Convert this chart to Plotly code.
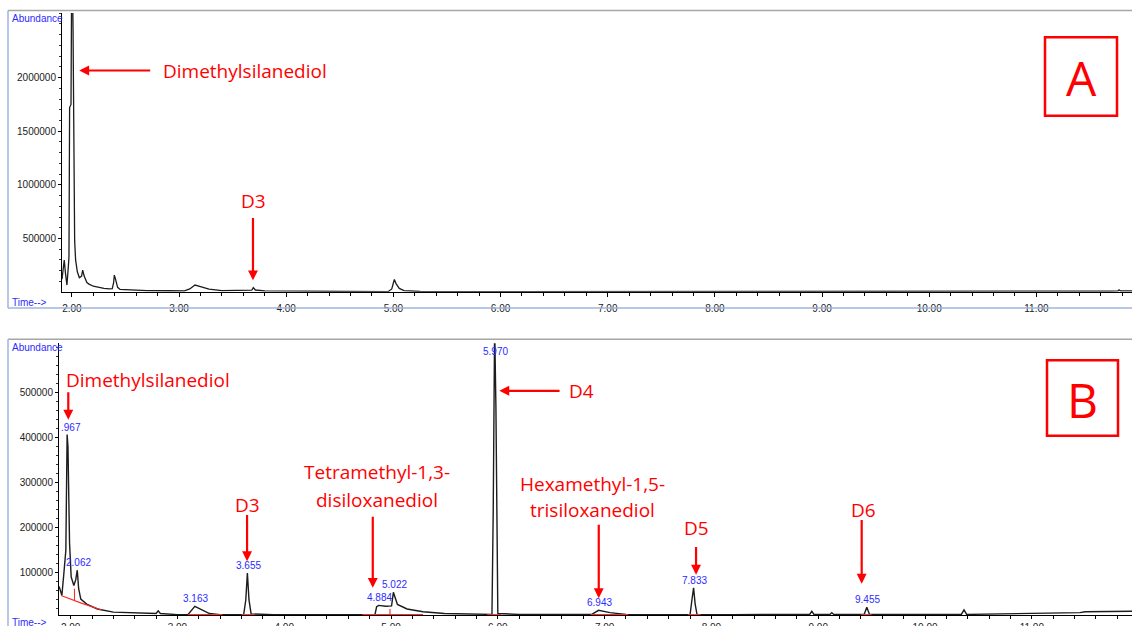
import plotly.graph_objects as go

W, H = 1132, 626          # reference picture size (coordinates below are in these pixels)
FIG_H = 633               # page is captured slightly taller and squeezed to 626

# ---------------- data ----------------
# Panel A chromatogram: retention time (min) / abundance
a_time = [1.908, 1.917, 1.929, 1.940, 1.954, 1.968, 1.973, 1.979, 1.992, 1.998, 2.006,
          2.011, 2.017, 2.026, 2.035, 2.051, 2.070, 2.091, 2.101, 2.115, 2.140, 2.160,
          2.200, 2.250, 2.300, 2.350, 2.377, 2.390, 2.396, 2.405, 2.427, 2.450, 2.550,
          2.700, 2.900, 3.050, 3.100, 3.149, 3.200, 3.280, 3.400, 3.600, 3.678, 3.693,
          3.712, 3.800, 4.000, 4.200, 4.600, 4.950, 4.985, 5.009, 5.025, 5.055, 5.100,
          5.250, 6.000, 7.000, 8.000, 9.000, 10.000, 11.000, 11.380, 11.400, 11.700,
          11.760, 11.771, 11.785, 11.892]
a_abund = [120000, 220000, 300000, 180000, 66000, 250000, 330000, 1720000, 1750000,
           2900000, 2900000, 2450000, 1050000, 480000, 300000, 190000, 135000, 150000,
           206000, 150000, 90000, 75000, 55000, 42000, 35000, 30000, 32000, 90000,
           159000, 130000, 45000, 25000, 18000, 14000, 13000, 12000, 30000, 66000,
           52000, 28000, 14000, 12000, 18000, 43000, 20000, 12000, 10000, 6000, 4500,
           4500, 30000, 118000, 80000, 35000, 15000, 6000, 3500, 3500, 3500, 3500,
           3500, 3500, 3500, 9000, 10000, 12000, 22000, 11000, 11000]

# Panel B chromatogram
b_time = [1.892, 1.905, 1.918, 1.935, 1.945, 1.955, 1.967, 1.975, 1.983, 1.990, 2.005,
          2.030, 2.048, 2.062, 2.075, 2.095, 2.150, 2.250, 2.400, 2.600, 2.800, 2.820,
          2.840, 3.000, 3.100, 3.163, 3.220, 3.300, 3.400, 3.620, 3.640, 3.655, 3.670,
          3.690, 3.900, 4.200, 4.500, 4.850, 4.865, 4.884, 4.950, 5.005, 5.022, 5.060,
          5.150, 5.300, 5.500, 5.800, 5.945, 5.957, 5.970, 5.982, 5.988, 6.000, 6.200,
          6.700, 6.880, 6.943, 7.050, 7.200, 7.800, 7.820, 7.833, 7.848, 7.865, 8.200,
          8.920, 8.940, 8.960, 9.110, 9.127, 9.145, 9.430, 9.455, 9.480, 10.340,
          10.365, 10.390, 10.800, 11.200, 11.450, 11.500, 11.940]
b_abund = [70000, 62000, 50000, 95000, 122000, 150000, 407000, 380000, 262000, 165000,
           91000, 72000, 85000, 106000, 65000, 42000, 31000, 20000, 13000, 11000, 10000,
           16000, 10000, 7500, 8000, 26000, 20000, 10000, 7500, 7500, 40000, 100000,
           40000, 9000, 7500, 7500, 7500, 8000, 25000, 28000, 26000, 27000, 57000, 30000,
           20000, 14000, 10000, 8000, 8000, 240000, 650000, 470000, 262000, 10000, 8000,
           8000, 8000, 17000, 12000, 8000, 7500, 45000, 67000, 30000, 8000, 7500, 8000,
           15000, 8000, 8000, 12000, 8000, 8000, 24000, 8000, 8000, 18000, 8000, 10000,
           11000, 12000, 14000, 15000]

# Integration baselines drawn in red on panel B (None = gap)
b_base_time = [1.910, 2.100, 2.290, None, 2.036, 2.036, None, 3.10, 3.42, None,
               3.60, 3.72, None, 4.73, 5.30, None, 4.99, 4.99, None, 5.90, 6.03, None,
               6.87, 7.22, None, 7.78, 7.90, None, 9.40, 9.50]
b_base_abund = [50000, 33000, 18000, None, 65000, 39000, None, 7500, 7500, None,
                7500, 7500, None, 7500, 7500, None, 7500, 20000, None, 7500, 7500, None,
                7500, 7500, None, 7500, 7500, None, 7500, 7500]

# Integrated peaks (blue retention-time labels)
b_peak_times = [1.967, 2.062, 3.163, 3.655, 4.884, 5.022, 5.970, 6.943, 7.833, 9.455]
b_peak_text = [".967", "2.062", "3.163", "3.655", "4.884", "5.022", "5.970", "6.943",
               "7.833", "9.455"]

x_tick_vals = [2, 3, 4, 5, 6, 7, 8, 9, 10, 11]
x_tick_text = ["2.00", "3.00", "4.00", "5.00", "6.00", "7.00", "8.00", "9.00", "10.00", "11.00"]
a_y_tick_vals = [500000, 1000000, 1500000, 2000000]
b_y_tick_vals = [100000, 200000, 300000, 400000, 500000]

# ---------------- styling ----------------
RED = "#ff0000"
BLUE = "#2b2bff"
TRACE = "#1c1c1c"
TICKFONT = dict(family="Liberation Sans, Arial, sans-serif", size=10, color="#222222")
ANNOFONT = dict(family="Open Sans, sans-serif", size=19, color=RED)

A_XR = [1.908, 11.892]
A_YR = [2800, 2601000]
B_XR = [1.891, 11.938]
B_YR = [6900, 609600]


def px(x):
    return x / W


def py(y):
    return 1 - y / H


fig = go.Figure()
fig.add_trace(go.Scatter(x=a_time, y=a_abund, mode="lines", xaxis="x", yaxis="y",
                         line=dict(color=TRACE, width=1.3), hoverinfo="skip"))
fig.add_trace(go.Scatter(x=b_time, y=b_abund, mode="lines", xaxis="x2", yaxis="y2",
                         line=dict(color=TRACE, width=1.4), hoverinfo="skip"))
fig.add_trace(go.Scatter(x=b_base_time, y=b_base_abund, mode="lines", xaxis="x2", yaxis="y2",
                         connectgaps=False, line=dict(color="#ff2a2a", width=1.1),
                         hoverinfo="skip"))


def xax(domain, rng, anchor, standoff, tlen):
    return dict(domain=domain, range=rng, anchor=anchor, tickmode="array",
                tickvals=x_tick_vals, ticktext=x_tick_text, showline=True,
                linecolor="#000000", linewidth=1, ticks="outside", ticklen=tlen,
                tickwidth=1, tickcolor="#000000", tickfont=TICKFONT, showgrid=False,
                zeroline=False, fixedrange=True, ticklabelstandoff=standoff,
                minor=dict(tickmode="linear", tick0=2, dtick=0.2, ticks="outside",
                           ticklen=3, tickcolor="#000000", showgrid=False))


def yax(domain, rng, anchor, vals, minor_dt):
    return dict(domain=domain, range=rng, anchor=anchor, tickmode="array",
                tickvals=vals, ticktext=[str(v) for v in vals], showline=True,
                linecolor="#000000", linewidth=1, ticks="outside", ticklen=3,
                tickwidth=1, tickcolor="#000000", tickfont=TICKFONT, showgrid=False,
                zeroline=False, fixedrange=True,
                minor=dict(tickmode="linear", tick0=0, dtick=minor_dt, ticks="outside",
                           ticklen=2, tickcolor="#333333", showgrid=False))


annotations = []


def red_text(xr, yr, x, y, text):
    annotations.append(dict(xref=xr, yref=yr, x=x, y=y, text=text, showarrow=False,
                            font=ANNOFONT, xanchor="center", yanchor="middle"))


def red_arrow(xr, yr, x, y, ax, ay):
    annotations.append(dict(xref=xr, yref=yr, x=x, y=y, axref=xr, ayref=yr, ax=ax, ay=ay,
                            text="", showarrow=True, arrowhead=2, arrowsize=0.9,
                            arrowwidth=2.2, arrowcolor=RED, standoff=0, startstandoff=0))


# Panel A annotations
red_text("x", "y", 3.613, 2062000, "Dimethylsilanediol")
red_arrow("x", "y", 2.069, 2066000, 2.745, 2066000)
red_text("x", "y", 3.693, 854000, "D3")
red_arrow("x", "y", 3.690, 110000, 3.690, 706000)

# Panel B annotations
red_text("x2", "y2", 2.720, 527000, "Dimethylsilanediol")
red_arrow("x2", "y2", 1.978, 440000, 1.978, 504000)
red_text("x2", "y2", 3.652, 250000, "D3")
red_arrow("x2", "y2", 3.652, 126000, 3.652, 232000)
red_text("x2", "y2", 4.864, 323000, "Tetramethyl-1,3-")
red_text("x2", "y2", 4.864, 262000, "disiloxanediol")
red_arrow("x2", "y2", 4.829, 67000, 4.829, 228000)
red_text("x2", "y2", 6.786, 504000, "D4")
red_arrow("x2", "y2", 6.014, 504000, 6.592, 504000)
red_text("x2", "y2", 6.885, 297000, "Hexamethyl-1,5-")
red_text("x2", "y2", 6.887, 239000, "trisiloxanediol")
red_arrow("x2", "y2", 6.945, 44000, 6.945, 210000)
red_text("x2", "y2", 7.856, 200000, "D5")
red_arrow("x2", "y2", 7.856, 96000, 7.856, 161000)
red_text("x2", "y2", 9.422, 239000, "D6")
red_arrow("x2", "y2", 9.407, 76000, 9.407, 221000)

# Blue retention-time labels on the integrated peaks
for t, txt in zip(b_peak_times, b_peak_text):
    apex = b_abund[b_time.index(t)]
    clipped = apex > B_YR[1]
    annotations.append(dict(
        xref="x2", yref="y2", x=t, y=B_YR[1] if clipped else apex, text=txt,
        showarrow=False, xanchor="center", yanchor="top" if clipped else "bottom",
        xshift=4 if txt.startswith(".") else 1, yshift=-1 if clipped else 0,
        font=dict(family="Liberation Sans, Arial, sans-serif", size=10, color=BLUE)))

# Window labels
for yy, txt in [(18, "Abundance"), (301, "Time--&gt;"), (345, "Abundance"), (619, "Time--&gt;")]:
    annotations.append(dict(xref="paper", yref="paper", x=px(10), y=py(yy), text=txt,
                            showarrow=False, xanchor="left", yanchor="middle",
                            font=dict(family="Liberation Sans, Arial, sans-serif",
                                      size=10, color=BLUE)))

# Panel letters
annotations.append(dict(xref="paper", yref="paper", x=px(1081), y=py(77), text="A",
                        showarrow=False, xanchor="center", yanchor="middle",
                        font=dict(family="Open Sans, sans-serif", size=48, color=RED)))
annotations.append(dict(xref="paper", yref="paper", x=px(1082.5), y=py(397), text="B",
                        showarrow=False, xanchor="center", yanchor="middle",
                        font=dict(family="Open Sans, sans-serif", size=48, color=RED)))

GRAY = "#a6a6a6"
LBLUE = "#9fb4de"
shapes = [
    dict(type="rect", xref="paper", yref="paper", x0=px(1045), x1=px(1117), y0=py(115), y1=py(37),
         line=dict(color=RED, width=2.5)),
    dict(type="rect", xref="paper", yref="paper", x0=px(1047), x1=px(1118), y0=py(433), y1=py(358),
         line=dict(color=RED, width=2.5)),
    dict(type="line", xref="paper", yref="paper", x0=px(8), x1=px(1132), y0=py(10.5), y1=py(10.5),
         line=dict(color=GRAY, width=1.5)),
    dict(type="line", xref="paper", yref="paper", x0=px(8), x1=px(8), y0=py(10.5), y1=py(306),
         line=dict(color=LBLUE, width=1.5)),
    dict(type="line", xref="paper", yref="paper", x0=px(8), x1=px(1132), y0=py(306), y1=py(306),
         line=dict(color=LBLUE, width=1.5)),
    dict(type="line", xref="paper", yref="paper", x0=px(8), x1=px(1132), y0=py(337), y1=py(337),
         line=dict(color=GRAY, width=1.5)),
    dict(type="line", xref="paper", yref="paper", x0=px(8), x1=px(8), y0=py(337), y1=py(626),
         line=dict(color=LBLUE, width=1.5)),
]

fig.update_layout(
    width=W, height=FIG_H, margin=dict(l=0, r=0, t=0, b=0),
    paper_bgcolor="white", plot_bgcolor="white", showlegend=False,
    xaxis=xax([px(62), 1.0], A_XR, "y", 3, 4),
    yaxis=yax([py(290), py(13)], A_YR, "x", a_y_tick_vals, 100000),
    xaxis2=xax([px(59), 1.0], B_XR, "y2", 0, 3),
    yaxis2=yax([py(611), py(341)], B_YR, "x2", b_y_tick_vals, 20000),
    annotations=annotations, shapes=shapes,
)

# remove the browser's default 8px body margin so the figure fills the window
fig.write_html("out.html",
               config={"displayModeBar": False, "staticPlot": True},
               post_script="document.body.style.margin='0';document.body.style.padding='0';"
                           "document.body.style.overflow='hidden';")
